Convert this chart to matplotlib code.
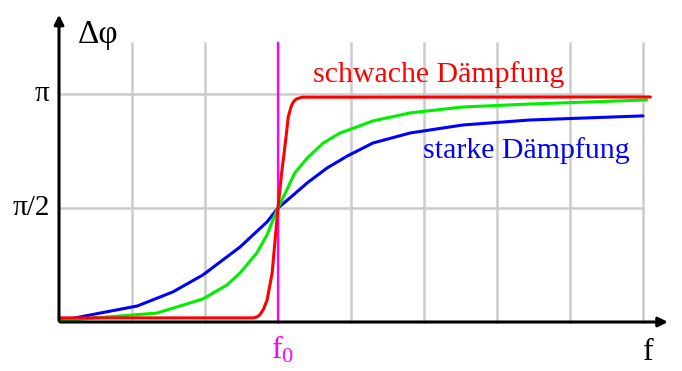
import matplotlib
matplotlib.use('Agg')
import matplotlib.pyplot as plt

plt.rcParams['font.family'] = ['Liberation Serif', 'DejaVu Serif']
plt.rcParams['mathtext.fontset'] = 'custom'
plt.rcParams['mathtext.rm'] = 'Liberation Serif'

# Frequenz in Gittereinheiten (f0 = 3), Phase in Einheiten von pi
blue_x = [0, 0.56, 1.07, 1.56, 1.97, 2.48, 2.85, 3.0, 3.21, 3.40, 3.67, 3.95, 4.30, 4.81, 5.53, 6.45, 8.0]
blue_y = [0.004, 0.039, 0.070, 0.132, 0.206, 0.329, 0.439, 0.5, 0.557, 0.610, 0.675, 0.728, 0.785, 0.829, 0.864, 0.886, 0.904]

green_x = [0, 0.66, 1.34, 1.97, 2.30, 2.48, 2.71, 2.85, 2.93, 3.0, 3.12, 3.23, 3.40, 3.62, 3.85, 4.05, 4.30, 4.81, 5.53, 6.45, 8.05]
green_y = [0.004, 0.022, 0.039, 0.101, 0.162, 0.215, 0.303, 0.382, 0.447, 0.5, 0.579, 0.654, 0.719, 0.785, 0.829, 0.852, 0.882, 0.917, 0.943, 0.956, 0.974]

red_x = [0, 2.66, 2.71, 2.75, 2.80, 2.85, 2.92, 2.96, 3.0, 3.05, 3.11, 3.14, 3.18, 3.21, 3.25, 3.33, 8.1]
red_y = [0.018, 0.018, 0.022, 0.031, 0.055, 0.096, 0.215, 0.360, 0.5, 0.654, 0.811, 0.899, 0.945, 0.965, 0.978, 0.986, 0.987]

f0 = 3
grid_x = [1, 2, 3, 4, 5, 6, 7, 8]
grid_y = [0.5, 1.0]
ytick_labels = ['π/2', 'π']

fig = plt.figure(figsize=(6.82, 3.71), dpi=100)
ax = fig.add_axes([0, 0, 1, 1])
ax.set_xlim(-59 / 73, 623 / 73)
ax.set_ylim(-49 / 228, 322 / 228)
ax.axis('off')

# Gitter
for gx in grid_x:
    ax.plot([gx, gx], [0, 1.224], color='#cccccc', lw=1.8, zorder=1)
for gy in grid_y:
    ax.plot([0, 8], [gy, gy], color='#cccccc', lw=1.8, zorder=1)

# Resonanzfrequenz
ax.plot([f0, f0], [0, 1.224], color='#ff00ff', lw=1.6, zorder=2)

# Kurven
line_kw = dict(lw=2.2, solid_joinstyle='round', solid_capstyle='round')
ax.plot(blue_x, blue_y, color='#0000ff', zorder=3, **line_kw)
ax.plot(green_x, green_y, color='#00ee00', zorder=3, **line_kw)
ax.plot(red_x, red_y, color='#ff0000', zorder=4, **line_kw)

# Achsen mit Pfeilen
ax.annotate('', xy=(0, 1.36), xytext=(0, -0.003),
            arrowprops=dict(arrowstyle='-|>', color='black', lw=2.2, mutation_scale=14), zorder=5)
ax.annotate('', xy=(8.38, 0), xytext=(-0.02, 0),
            arrowprops=dict(arrowstyle='-|>', color='black', lw=2.2, mutation_scale=14), zorder=5)

# Beschriftungen
ax.text(-0.33, 1.0, ytick_labels[1], fontsize=21, ha='left', va='center')
ax.text(-0.64, 0.5, ytick_labels[0], fontsize=21, ha='left', va='center')
ax.text(0.26, 1.26, 'Δφ', fontsize=24, ha='left', va='center')
ax.text(8.0, -0.167, 'f', fontsize=23, ha='left', va='baseline')
ax.text(2.9, -0.158, r'$\mathrm{f_0}$', fontsize=23, color='#ff00ff', ha='left', va='baseline')
ax.text(3.48, 1.053, 'schwache Dämpfung', fontsize=21.5, color='#ff0000', ha='left', va='baseline')
ax.text(4.99, 0.719, 'starke Dämpfung', fontsize=21.5, color='#0000ff', ha='left', va='baseline')

fig.savefig('out.png', dpi=100)
